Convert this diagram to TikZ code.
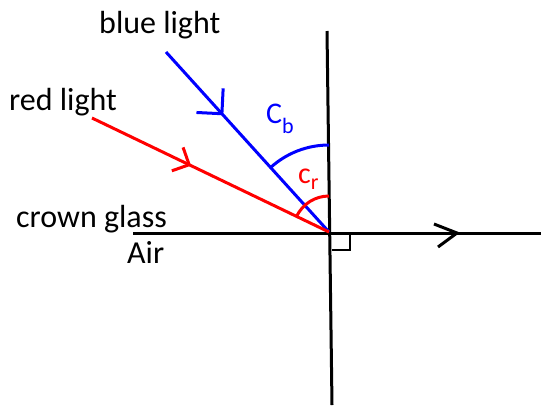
\documentclass[tikz,border=0pt]{standalone}
\usepackage{fontspec}
\setmainfont{Carlito}
\usetikzlibrary{decorations.markings}
\definecolor{rayblue}{RGB}{0,0,255}
\definecolor{rayred}{RGB}{255,0,0}
\begin{document}
\begin{tikzpicture}[x=1pt,y=-1pt,
  axis/.style={line width=3pt,black},
  ray/.style={line width=3pt},
  lbl/.style={inner sep=0pt,anchor=base west,font=\fontsize{32}{32}\selectfont},
  sym/.style={inner sep=0pt,anchor=base west,font=\fontsize{30}{30}\selectfont}]
\useasboundingbox (0,0) rectangle (541,405);
% coordinates
\coordinate (O) at (329,232);
\coordinate (vt) at (327,31);
\coordinate (vb) at (332,405);
\coordinate (hl) at (133,233);
\coordinate (hr) at (541,233);
\coordinate (bs) at (166,52);
\coordinate (rs) at (92,118);
% axes
\draw[axis] (vt) -- (vb);
\draw[axis] (hl) -- (hr);
\coordinate (ht) at (457,233);
\draw[axis] ([shift={(-23,-9)}]ht) -- (ht) -- ([shift={(-19,14)}]ht);
% right angle mark
\coordinate (ra) at (350,250);
\draw[line width=2.6pt] (ra |- hr) -- (ra) -- (ra -| vb);
% rays
\draw[ray,rayblue,postaction={decorate},decoration={markings,
  mark=at position 0.343 with {\draw[ray,rayblue] (-18pt,18pt) -- (0,0) -- (-18pt,-18pt);}}] (bs) -- (O);
\draw[ray,rayred,postaction={decorate},decoration={markings,
  mark=at position 0.41 with {\draw[ray,rayred] (-13pt,13pt) -- (0,0) -- (-13pt,-13pt);}}] (rs) -- (O);
% arcs
\draw[ray,rayblue] (O) ++(227.7:87) arc[start angle=227.7,end angle=270,radius=87];
\draw[ray,rayred] (O) ++(205.7:36) arc[start angle=205.7,end angle=270,radius=36];
% labels
\node[lbl] (blue) at (99,33) {blue light};
\node[lbl] (red) at (9,110) {red light};
\node[lbl] (crown) at (16,227) {crown glass};
\node[lbl] (air) at (127,263) {Air};
\node[sym,text=rayblue] (cb) at (266,123) {C\raisebox{-0.35em}{\fontsize{22}{22}\selectfont b}};
\node[sym,text=rayred] (cr) at (298,183) {c\raisebox{-0.2em}{\fontsize{22}{22}\selectfont r}};
\end{tikzpicture}
\end{document}
